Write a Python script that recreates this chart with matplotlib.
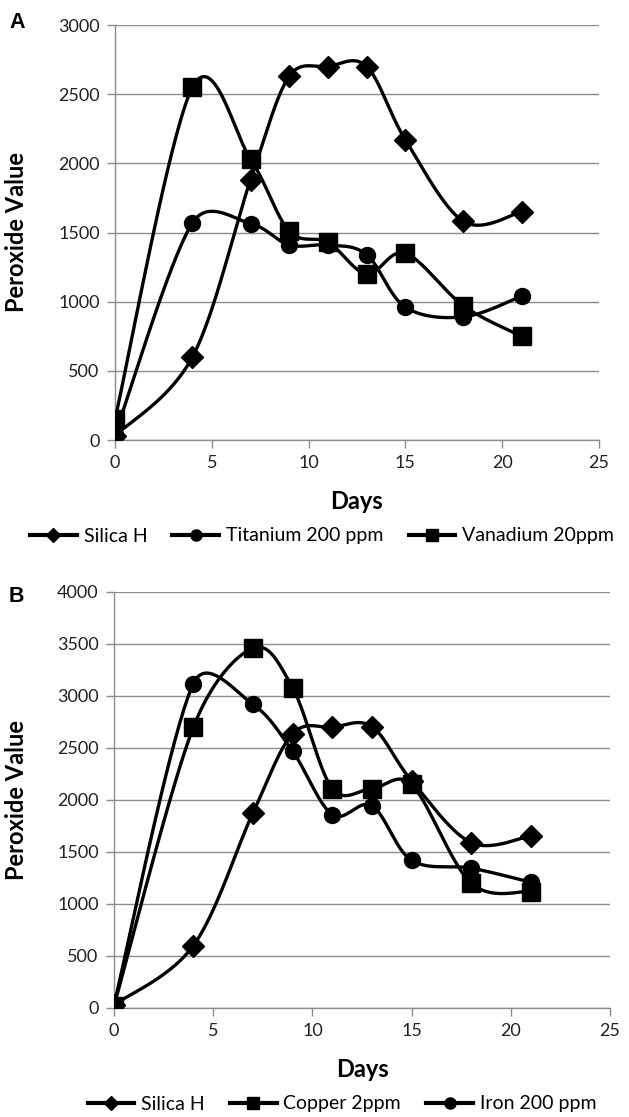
import numpy as np
import matplotlib
matplotlib.use("Agg")
from matplotlib import pyplot as plt
from matplotlib.lines import Line2D

plt.rcParams['font.family'] = ['Lato', 'DejaVu Sans']

days = [0, 4, 7, 9, 11, 13, 15, 18, 21]

# panel A
silicaA = [30, 600, 1880, 2630, 2700, 2700, 2170, 1580, 1650]
titanium = [40, 1570, 1565, 1410, 1410, 1340, 960, 890, 1040]
vanadium = [150, 2550, 2030, 1510, 1430, 1200, 1350, 970, 750]

# panel B
silicaB = [30, 600, 1875, 2635, 2700, 2705, 2185, 1590, 1655]
copper = [20, 2700, 3460, 3080, 2110, 2110, 2150, 1200, 1120]
iron = [30, 3120, 2920, 2470, 1860, 1945, 1420, 1345, 1210]

grid_col = "#8c8c8c"


def smooth(ax, xs, ys, n=40):
    # excel-like smoothed line, built in pixel space
    p = ax.transData.transform(np.column_stack([xs, ys]).astype(float))
    p = np.vstack([p[0], p, p[-1]])
    t = np.linspace(0, 1, n)[:, None]
    out = []
    for i in range(1, len(p) - 2):
        p0, p1, p2, p3 = p[i - 1], p[i], p[i + 1], p[i + 2]
        seg_len = np.hypot(*(p2 - p1))
        a1 = (p2 - p0) / 6
        a2 = (p3 - p1) / 6
        for a in (a1, a2):
            la = np.hypot(*a)
            if la > seg_len / 2 and la > 0:
                a *= (seg_len / 2) / la
        c1 = p1 + a1
        c2 = p2 - a2
        seg = (1 - t)**3 * p1 + 3 * (1 - t)**2 * t * c1 + 3 * (1 - t) * t**2 * c2 + t**3 * p2
        out.append(seg)
    out = ax.transData.inverted().transform(np.vstack(out))
    return out[:, 0], out[:, 1]


def style_axes(ax, ymax, step):
    ax.set_xlim(0, 25)
    ax.set_ylim(0, ymax)
    ax.set_xticks(range(0, 26, 5))
    ax.set_yticks(range(0, ymax + 1, step))
    ax.yaxis.grid(True, color=grid_col, lw=1.0)
    ax.set_axisbelow(True)
    for s in ["top", "right"]:
        ax.spines[s].set_visible(False)
    for s in ["left", "bottom"]:
        ax.spines[s].set_color(grid_col)
        ax.spines[s].set_linewidth(1.0)
    ax.tick_params(axis="both", colors=grid_col, length=6, width=1.0, labelsize=13,
                   labelcolor="#222222", pad=5)
    ax.set_xlabel("Days", fontsize=17, fontweight="bold")
    ax.set_ylabel("Peroxide Value", fontsize=17, fontweight="bold")


markers = {"D": 11, "o": 11.5, "s": 13}


def draw(ax, series):
    for ys, mk in series:
        sx, sy = smooth(ax, days, ys)
        ax.plot(sx, sy, color="black", lw=2.4, zorder=3)
        ax.plot(days, ys, ls="none", marker=mk, ms=markers[mk], color="black", zorder=4)


fig = plt.figure(figsize=(6.29, 11.17), dpi=100)

axA = fig.add_axes([115 / 629, 1 - 440 / 1117, 484 / 629, 415 / 1117])
style_axes(axA, 3000, 500)
draw(axA, [(silicaA, "D"), (titanium, "o"), (vanadium, "s")])
axA.xaxis.set_label_coords(0.5, -0.12)
axA.yaxis.set_label_coords(-0.18, 0.5)

axB = fig.add_axes([114 / 629, 1 - 1008 / 1117, 496 / 629, 416 / 1117])
style_axes(axB, 4000, 500)
draw(axB, [(silicaB, "D"), (copper, "s"), (iron, "o")])
axB.xaxis.set_label_coords(0.5, -0.12)
axB.yaxis.set_label_coords(-0.173, 0.5)


def handle(mk, ms):
    return Line2D([], [], color="black", lw=3, marker=mk, ms=ms)


leg_kw = dict(loc="center", ncol=3, frameon=False, fontsize=14, handlelength=2.4,
              columnspacing=1.3, handletextpad=0.35)
fig.legend([handle("D", 7), handle("o", 8), handle("s", 9)],
           ["Silica H", "Titanium 200 ppm", "Vanadium 20ppm"],
           bbox_to_anchor=(322 / 629, 1 - 536 / 1117), **leg_kw)
fig.legend([handle("D", 7), handle("s", 9), handle("o", 8)],
           ["Silica H", "Copper 2ppm", "Iron 200 ppm"],
           bbox_to_anchor=(342 / 629, 1 - 1104 / 1117), **leg_kw)

fig.text(9 / 629, 1 - 22 / 1117, "A", fontsize=15.5, fontweight="bold",
         family="Liberation Sans", va="center")
fig.text(9 / 629, 1 - 596 / 1117, "B", fontsize=15.5, fontweight="bold",
         family="Liberation Sans", va="center")

fig.savefig("out.png", dpi=100)
